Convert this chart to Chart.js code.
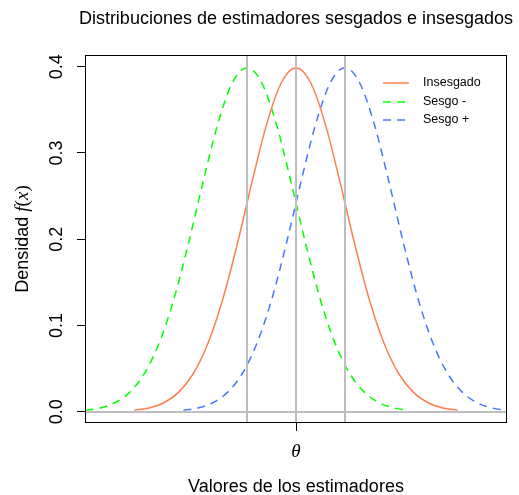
<!DOCTYPE html>
<html>
<head>
<meta charset="utf-8">
<script src="https://cdn.jsdelivr.net/npm/chart.js@4.4.1/dist/chart.umd.min.js"></script>
<style>
html, body { margin: 0; padding: 0; background: #fff; }
canvas { display: block; }
</style>
</head>
<body>
<canvas id="densChart" width="519" height="495"></canvas>
<script>
// valores (densidad normal, sd = 1)
const xInsesgado = [-3.3, -3.0, -2.7, -2.4, -2.1, -1.8, -1.5, -1.2, -0.9, -0.6, -0.3, 0, 0.3, 0.6, 0.9, 1.2, 1.5, 1.8, 2.1, 2.4, 2.7, 3.0, 3.3];
const xSesgoMenos = [-4.3, -4.0, -3.7, -3.4, -3.1, -2.8, -2.5, -2.2, -1.9, -1.6, -1.3, -1, -0.7, -0.4, -0.1, 0.2, 0.5, 0.8, 1.1, 1.4, 1.7, 2.0, 2.3];
const xSesgoMas = [-2.3, -2.0, -1.7, -1.4, -1.1, -0.8, -0.5, -0.2, 0.1, 0.4, 0.7, 1, 1.3, 1.6, 1.9, 2.2, 2.5, 2.8, 3.1, 3.4, 3.7, 4.0, 4.3];
const densidad = [0.0017, 0.0044, 0.0104, 0.0224, 0.0440, 0.0790, 0.1295, 0.1942, 0.2661, 0.3332, 0.3814, 0.3989, 0.3814, 0.3332, 0.2661, 0.1942, 0.1295, 0.0790, 0.0440, 0.0224, 0.0104, 0.0044, 0.0017];
const yTicks = [0, 0.1, 0.2, 0.3, 0.4];
const xTicks = [0];
const xTickLabels = ['θ'];
const refLinesX = [-1, 0, 1];
const refLinesY = [0];
const seriesNames = ['Insesgado', 'Sesgo -', 'Sesgo +'];

const toPoints = (xs, ys) => xs.map((x, i) => ({x: x, y: ys[i]}));

const SANS = '"Liberation Sans", Arial, sans-serif';
const SERIF = '"Liberation Serif", "Times New Roman", serif';

// grey reference lines, box, titles and legend
const decor = {
    id: 'decor',
    afterDatasetsDraw(chart) {
        const {ctx, chartArea: a, scales: {x, y}} = chart;
        ctx.save();
        ctx.strokeStyle = '#bebebe';
        ctx.lineWidth = 2;
        refLinesX.forEach(v => {
            const px = Math.round(x.getPixelForValue(v));
            ctx.beginPath(); ctx.moveTo(px, a.top); ctx.lineTo(px, a.bottom); ctx.stroke();
        });
        refLinesY.forEach(v => {
            const py = Math.round(y.getPixelForValue(v));
            ctx.beginPath(); ctx.moveTo(a.left, py); ctx.lineTo(a.right, py); ctx.stroke();
        });
        ctx.restore();
    },
    afterDraw(chart) {
        const {ctx, chartArea: a} = chart;
        const cx = (a.left + a.right) / 2;
        const cy = (a.top + a.bottom) / 2;
        ctx.save();
        // box
        ctx.strokeStyle = '#000';
        ctx.lineWidth = 1;
        ctx.strokeRect(Math.round(a.left) + 0.5, Math.round(a.top) + 0.5,
            Math.round(a.right - a.left) - 1, Math.round(a.bottom - a.top) - 1);

        ctx.fillStyle = '#000';
        ctx.textBaseline = 'middle';
        ctx.textAlign = 'center';
        ctx.font = '18px ' + SANS;
        ctx.fillText('Distribuciones de estimadores sesgados e insesgados', cx, 19);
        ctx.fillText('Valores de los estimadores', cx, 487);

        // y title: Densidad f(x), f and x in italic
        const parts = [
            ['Densidad ', '18px ' + SANS],
            ['f', 'italic 19px ' + SERIF],
            ['(', '19px ' + SERIF],
            ['x', 'italic 19px ' + SERIF],
            [')', '19px ' + SERIF]
        ];
        let total = 0;
        parts.forEach(p => { ctx.font = p[1]; total += ctx.measureText(p[0]).width; });
        ctx.translate(23, cy);
        ctx.rotate(-Math.PI / 2);
        ctx.textAlign = 'left';
        let pos = -total / 2;
        parts.forEach(p => {
            ctx.font = p[1];
            ctx.fillText(p[0], pos, 0);
            pos += ctx.measureText(p[0]).width;
        });
        ctx.setTransform(1, 0, 0, 1, 0, 0);

        // legend without frame
        const rows = [83, 102, 120];
        chart.data.datasets.forEach((ds, i) => {
            ctx.strokeStyle = ds.borderColor;
            ctx.lineWidth = ds.borderWidth;
            ctx.setLineDash(ds.borderDash || []);
            ctx.beginPath(); ctx.moveTo(383, rows[i]); ctx.lineTo(409, rows[i]); ctx.stroke();
            ctx.setLineDash([]);
            ctx.font = '12.5px ' + SANS;
            ctx.textAlign = 'left';
            ctx.fillText(ds.label, 423, rows[i]);
        });
        ctx.restore();
    }
};

const ctx = document.getElementById('densChart').getContext('2d');
new Chart(ctx, {
    type: 'line',
    data: {
        datasets: [
            {
                label: seriesNames[0],
                data: toPoints(xInsesgado, densidad),
                borderColor: '#ff7f50',
                borderWidth: 1.5
            },
            {
                label: seriesNames[1],
                data: toPoints(xSesgoMenos, densidad),
                borderColor: '#00ff00',
                borderWidth: 1.5,
                borderDash: [8, 6]
            },
            {
                label: seriesNames[2],
                data: toPoints(xSesgoMas, densidad),
                borderColor: '#4876ff',
                borderWidth: 1.5,
                borderDash: [8, 6]
            }
        ]
    },
    options: {
        responsive: false,
        animation: false,
        events: [],
        cubicInterpolationMode: 'monotone',
        elements: { point: { radius: 0 } },
        layout: { padding: { top: 55, right: 12, left: 0, bottom: 0 } },
        plugins: { legend: { display: false }, tooltip: { enabled: false } },
        scales: {
            x: {
                type: 'linear',
                min: -4.31,
                max: 4.31,
                afterBuildTicks: s => { s.ticks = xTicks.map(v => ({value: v})); },
                afterFit: s => { s.height = 72; },
                ticks: {
                    callback: (v, i) => xTickLabels[i],
                    color: '#000',
                    font: { family: SERIF, size: 19, style: 'italic' },
                    padding: 10,
                    maxRotation: 0
                },
                grid: { drawOnChartArea: false, color: '#000', tickLength: 8 },
                border: { display: false }
            },
            y: {
                min: -0.0131,
                max: 0.4136,
                afterBuildTicks: s => { s.ticks = yTicks.map(v => ({value: v})); },
                afterFit: s => { s.width = 85; },
                ticks: {
                    callback: v => v.toFixed(1),
                    color: '#000',
                    font: { family: SANS, size: 18 },
                    minRotation: 90,
                    maxRotation: 90,
                    crossAlign: 'center',
                    padding: 7
                },
                grid: { drawOnChartArea: false, color: '#000', tickLength: 8 },
                border: { display: false }
            }
        }
    },
    plugins: [decor]
});
</script>
</body>
</html>
